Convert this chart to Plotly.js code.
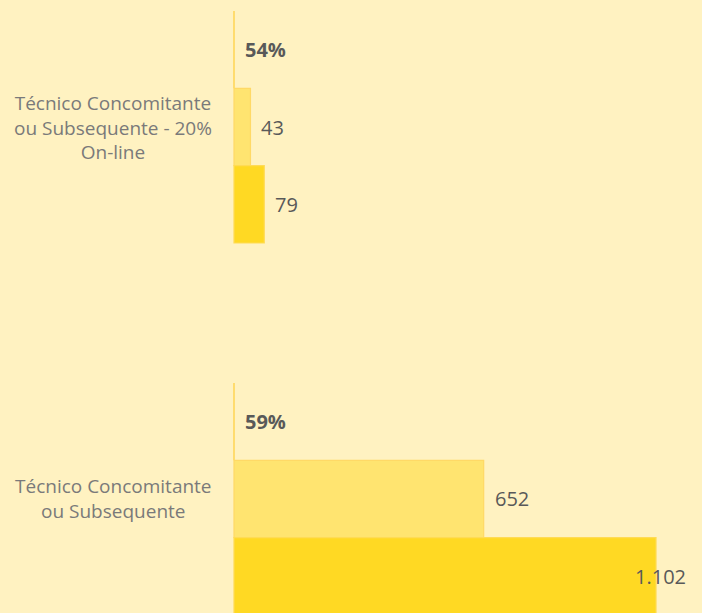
<!DOCTYPE html>
<html>
<head>
<meta charset="utf-8">
<script src="https://cdn.plot.ly/plotly-3.0.1.min.js"></script>
<style>html,body{margin:0;padding:0;background:#FFF2C1;}</style>
</head>
<body>
<div id="chart" style="width:702px;height:613px;"></div>
<script>
// Data
const categories = ["Técnico Concomitante ou Subsequente - 20% On-line", "Técnico Concomitante ou Subsequente"];
const categoryLabels = ["Técnico Concomitante<br>ou Subsequente - 20%<br>On-line", "Técnico Concomitante<br>ou Subsequente"];
const percentLabels = ["54%", "59%"];
const seriesLight = [43, 652];
const seriesDark = [79, 1102];
const valueLabelsLight = ["43", "652"];
const valueLabelsDark = ["79", "1.102"];
const percentBase = [0, 0];

const W = 702, H = 613;
const mL = 232, mR = 0, mT = 0, mB = 0;
const xRange = [-5.22, 1222.1];
const yRange = [1.3065, -0.3414];
const bargap = 0.3763;
const rowPx = ((H - mT - mB) / (yRange[0] - yRange[1])) * (1 - bargap) / 3;

const lineCol = '#FFD966';
const traces = [
  {type: 'bar', orientation: 'h', y: categories, x: percentBase,
   marker: {color: 'rgba(0,0,0,0)', line: {color: '#FFD65A', width: 1.6}}, hoverinfo: 'skip'},
  {type: 'bar', orientation: 'h', y: categories, x: seriesLight,
   marker: {color: '#FFE470', line: {color: lineCol, width: 1.2}}, hoverinfo: 'skip'},
  {type: 'bar', orientation: 'h', y: categories, x: seriesDark,
   marker: {color: '#FFD923', line: {color: '#FFDB55', width: 1.2}}, hoverinfo: 'skip'}
];

const annotations = [];
const valFont = {family: 'Open Sans', size: 20, color: '#595959'};
const maxVal = Math.max(...seriesDark, ...seriesLight);
categories.forEach((c, i) => {
  annotations.push({xref: 'paper', yref: 'y', x: 0, y: c, xanchor: 'right', yanchor: 'middle',
    xshift: -18, text: categoryLabels[i], showarrow: false, align: 'center',
    font: {family: 'Open Sans', size: 19, color: '#7A7A7A'}});
  const rows = [
    {v: percentBase[i], t: '<b>' + percentLabels[i] + '</b>'},
    {v: seriesLight[i], t: valueLabelsLight[i]},
    {v: seriesDark[i], t: valueLabelsDark[i]}
  ];
  rows.forEach((r, k) => {
    const big = r.v === maxVal;
    annotations.push({xref: 'x', yref: 'y', x: r.v, y: c,
      xanchor: big ? 'center' : 'left', yanchor: 'middle',
      xshift: big ? 4 : 9, yshift: (1 - k) * rowPx,
      text: r.t, showarrow: false, font: valFont});
  });
});

const layout = {
  width: W, height: H,
  margin: {l: mL, r: mR, t: mT, b: mB},
  paper_bgcolor: '#FFF2C1', plot_bgcolor: '#FFF2C1',
  barmode: 'group', bargap: bargap, bargroupgap: 0,
  showlegend: false,
  xaxis: {range: xRange, showgrid: false, zeroline: false, showline: false, showticklabels: false, fixedrange: true},
  yaxis: {type: 'category', range: yRange, showgrid: false, zeroline: false, showline: false, showticklabels: false, fixedrange: true},
  annotations: annotations
};

Plotly.newPlot('chart', traces, layout, {staticPlot: true, displayModeBar: false});
</script>
</body>
</html>
